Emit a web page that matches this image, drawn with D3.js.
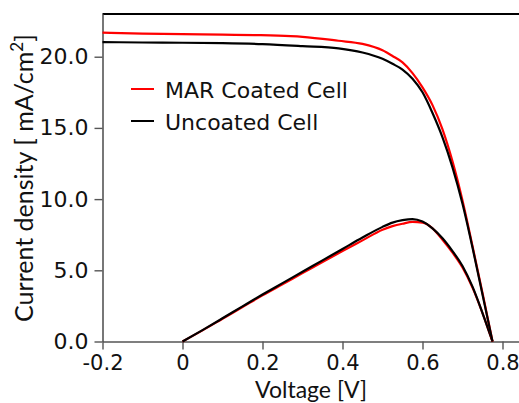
<!DOCTYPE html>
<html>
<head>
<meta charset="utf-8">
<script src="https://cdn.jsdelivr.net/npm/d3@7"></script>
<style>
  html, body { margin: 0; padding: 0; background: #fff; overflow: hidden; }
  svg { display: block; }
</style>
</head>
<body>
<svg id="chart" width="519" height="403"></svg>
<script>
// ---- data ----
const seriesNames = ["MAR Coated Cell", "Uncoated Cell"];
const seriesColors = ["#ff0000", "#000000"];

const jvVoltageCoated = [-0.2, -0.1, 0, 0.1, 0.18, 0.27, 0.3, 0.39, 0.45, 0.5, 0.525, 0.55, 0.575, 0.6, 0.625, 0.65, 0.675, 0.7, 0.725, 0.75, 0.775];
const jvCurrentCoated = [21.69, 21.62, 21.58, 21.55, 21.52, 21.45, 21.4, 21.12, 20.9, 20.45, 20.05, 19.6, 18.85, 17.85, 16.6, 14.9, 12.65, 9.9, 6.7, 3.4, 0];

const jvVoltageUncoated = [-0.2, -0.1, 0, 0.1, 0.2, 0.3, 0.39, 0.45, 0.5, 0.525, 0.55, 0.575, 0.6, 0.625, 0.65, 0.675, 0.7, 0.725, 0.75, 0.775];
const jvCurrentUncoated = [21.03, 21.0, 20.98, 20.95, 20.88, 20.74, 20.59, 20.3, 19.85, 19.5, 19.1, 18.45, 17.5, 16.05, 14.34, 12.23, 9.67, 6.6, 3.3, 0];

const pvVoltage = [0, 0.05, 0.1, 0.15, 0.2, 0.25, 0.3, 0.35, 0.4, 0.45, 0.5, 0.525, 0.55, 0.575, 0.6, 0.625, 0.65, 0.675, 0.7, 0.725, 0.75, 0.775];
const pvCoated   = [0, 0.78, 1.6, 2.42, 3.24, 4.02, 4.8, 5.58, 6.35, 7.1, 7.85, 8.1, 8.27, 8.4, 8.35, 7.95, 7.15, 6.25, 5.2, 3.78, 2.0, 0];
const pvUncoated = [0, 0.8, 1.63, 2.47, 3.3, 4.1, 4.9, 5.7, 6.5, 7.3, 8.05, 8.35, 8.52, 8.6, 8.42, 7.95, 7.25, 6.35, 5.3, 3.85, 2.0, 0];

const xTickValues = [-0.2, 0, 0.2, 0.4, 0.6, 0.8];
const xTickLabels = ["-0.2", "0", "0.2", "0.4", "0.6", "0.8"];
const yTickValues = [0, 5, 10, 15, 20];
const yTickLabels = ["0.0", "5.0", "10.0", "15.0", "20.0"];

const xTitle = "Voltage [V]";
const yTitleMain = "Current density [ mA/cm";
const yTitleSup = "2";
const yTitleEnd = "]";

// ---- layout ----
const svg = d3.select("#chart");
const plotLeft = 102.5, plotTop = 14, plotBottom = 341.5, plotRight = 522.5;

const x = d3.scaleLinear().domain([-0.2, 0.85]).range([plotLeft, plotRight]);
const y = d3.scaleLinear().domain([0, 23]).range([plotBottom, plotTop]);

const tickFont = "'DejaVu Sans', Verdana, sans-serif";
const titleFont = "Lato, 'Open Sans', sans-serif";
const axisColor = "#555";

// top border
svg.append("line")
  .attr("x1", plotLeft).attr("x2", 519).attr("y1", plotTop).attr("y2", plotTop)
  .attr("stroke", "#000").attr("stroke-width", 2);

// x axis
const xAxis = d3.axisBottom(x)
  .tickValues(xTickValues)
  .tickFormat((d, i) => xTickLabels[i])
  .tickSize(8).tickSizeOuter(0).tickPadding(6);
const gx = svg.append("g").attr("transform", `translate(0,${plotBottom})`).call(xAxis);
gx.select(".domain").attr("stroke", axisColor).attr("stroke-width", 1.6);
gx.selectAll(".tick line").attr("stroke", axisColor).attr("stroke-width", 1.4);
gx.selectAll(".tick text").attr("fill", "#111").style("font-family", tickFont).style("font-size", "21px");

// y axis
const yAxis = d3.axisLeft(y)
  .tickValues(yTickValues)
  .tickFormat((d, i) => yTickLabels[i])
  .tickSize(8).tickSizeOuter(0).tickPadding(6);
const gy = svg.append("g").attr("transform", `translate(${plotLeft},0)`).call(yAxis);
gy.select(".domain").attr("stroke", axisColor).attr("stroke-width", 1.6);
gy.selectAll(".tick line").attr("stroke", axisColor).attr("stroke-width", 1.4);
gy.selectAll(".tick text").attr("fill", "#111").style("font-family", tickFont).style("font-size", "22px");

// axis titles
svg.append("text")
  .attr("x", 311).attr("y", 398)
  .attr("text-anchor", "middle")
  .style("font-family", titleFont).style("font-size", "23px").attr("fill", "#111")
  .text(xTitle);

const yt = svg.append("text")
  .attr("transform", "translate(33,178) rotate(-90)")
  .attr("text-anchor", "middle")
  .style("font-family", titleFont).style("font-size", "25px").attr("fill", "#111");
yt.append("tspan").text(yTitleMain);
yt.append("tspan").attr("dy", -10).style("font-size", "17px").text(yTitleSup);
yt.append("tspan").attr("dy", 10).text(yTitleEnd);

// lines
const line = d3.line().x(d => x(d[0])).y(d => y(d[1])).curve(d3.curveMonotoneX);
const zip = (a, b) => a.map((v, i) => [v, b[i]]);

const plots = [
  { data: zip(pvVoltage, pvCoated), color: seriesColors[0] },
  { data: zip(pvVoltage, pvUncoated), color: seriesColors[1] },
  { data: zip(jvVoltageCoated, jvCurrentCoated), color: seriesColors[0] },
  { data: zip(jvVoltageUncoated, jvCurrentUncoated), color: seriesColors[1] }
];
plots.forEach(p => {
  svg.append("path")
    .datum(p.data)
    .attr("d", line)
    .attr("fill", "none")
    .attr("stroke", p.color)
    .attr("stroke-width", 2.2)
    .attr("stroke-linejoin", "round");
});

// legend
const legendY = [89, 121];
seriesNames.forEach((name, i) => {
  svg.append("line")
    .attr("x1", 131).attr("x2", 154)
    .attr("y1", legendY[i]).attr("y2", legendY[i])
    .attr("stroke", seriesColors[i]).attr("stroke-width", 2);
  svg.append("text")
    .attr("x", 165).attr("y", legendY[i] + 9)
    .style("font-family", tickFont).style("font-size", "22px").attr("fill", "#111")
    .text(name);
});
</script>
</body>
</html>
